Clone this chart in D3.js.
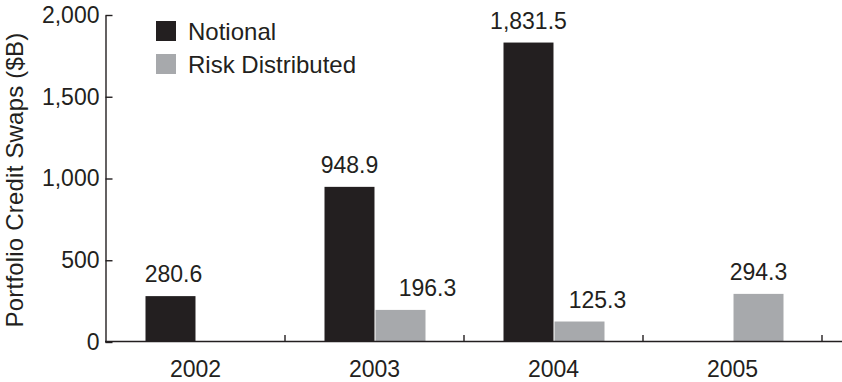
<!DOCTYPE html>
<html>
<head>
<meta charset="utf-8">
<script src="https://cdn.jsdelivr.net/npm/d3@7/dist/d3.min.js"></script>
<style>
  html, body { margin: 0; padding: 0; background: #fff; }
  svg { display: block; font-family: "Liberation Sans", Arial, Helvetica, sans-serif; }
  text { fill: #231f20; }
</style>
</head>
<body>
<svg id="chart" width="842" height="382"></svg>
<script>
// Portfolio credit swap volumes by year
const years = ["2002", "2003", "2004", "2005"];
const seriesNames = ["Notional", "Risk Distributed"];
const notional = [280.6, 948.9, 1831.5, null];
const riskDistributed = [null, 196.3, 125.3, 294.3];
const yTicks = [0, 500, 1000, 1500, 2000];

const colors = { "Notional": "#231f20", "Risk Distributed": "#a7a9ac" };
const ink = "#231f20";

// small nudges for value labels that sit beside taller neighbours
const labelNudge = { "Risk Distributed|2003": 27, "Risk Distributed|2004": 18, "Notional|2002": 3 };

const svg = d3.select("#chart");

const x = d3.scaleBand().domain(years).range([106, 822]).padding(0);
const y = d3.scaleLinear().domain([0, 2000]).range([342, 15]);
const fmt = d3.format(",.1f");

const rows = [];
years.forEach((yr, i) => {
  if (notional[i] != null) rows.push({ year: yr, series: "Notional", value: notional[i] });
  if (riskDistributed[i] != null) rows.push({ year: yr, series: "Risk Distributed", value: riskDistributed[i] });
});

// two bars share the middle of each year's band
function sub(yr) {
  const c = x(yr) + x.bandwidth() / 2;
  return d3.scaleBand().domain(seriesNames).range([c - 50, c + 51]).paddingInner(0.02);
}

// bars
svg.append("g").selectAll("rect")
  .data(rows)
  .join("rect")
  .attr("x", d => sub(d.year)(d.series))
  .attr("width", d => sub(d.year).bandwidth())
  .attr("y", d => y(d.value))
  .attr("height", d => y(0) - y(d.value))
  .attr("fill", d => colors[d.series]);

// value labels
svg.append("g").selectAll("text")
  .data(rows)
  .join("text")
  .attr("x", d => sub(d.year)(d.series) + sub(d.year).bandwidth() / 2 + (labelNudge[d.series + "|" + d.year] || 0))
  .attr("y", d => y(d.value) - 14)
  .attr("text-anchor", "middle")
  .attr("font-size", 23)
  .text(d => fmt(d.value));

// y axis
const yAxis = svg.append("g")
  .attr("transform", "translate(105.5,0)")
  .call(d3.axisLeft(y).tickValues(yTicks).tickFormat(d3.format(",")).tickSize(-7).tickSizeOuter(0).tickPadding(6));
yAxis.selectAll("text").attr("font-size", 23).attr("fill", ink);
yAxis.selectAll("line, path").attr("stroke", ink).attr("stroke-width", 1.4);

// x axis: labels at band centres, ticks at band boundaries
const xAxis = svg.append("g")
  .attr("transform", "translate(0,341.5)")
  .call(d3.axisBottom(x).tickSize(0).tickPadding(19));
xAxis.select(".domain").remove();
xAxis.selectAll("text").attr("font-size", 23).attr("fill", ink);

svg.append("line")
  .attr("x1", 105).attr("x2", 842)
  .attr("y1", 341.5).attr("y2", 341.5)
  .attr("stroke", ink).attr("stroke-width", 1.4);

svg.append("g").selectAll("line")
  .data(years)
  .join("line")
  .attr("x1", d => x(d) + x.bandwidth())
  .attr("x2", d => x(d) + x.bandwidth())
  .attr("y1", 341.5).attr("y2", 335)
  .attr("stroke", ink).attr("stroke-width", 1.4);

// y axis title
svg.append("text")
  .attr("transform", "translate(23,180) rotate(-90)")
  .attr("text-anchor", "middle")
  .attr("font-size", 24)
  .attr("letter-spacing", 0.2)
  .text("Portfolio Credit Swaps ($B)");

// legend
const legend = svg.append("g").selectAll("g")
  .data(seriesNames)
  .join("g")
  .attr("transform", (d, i) => `translate(156,${21 + i * 33})`);
legend.append("rect")
  .attr("width", 20).attr("height", 20)
  .attr("fill", d => colors[d]);
legend.append("text")
  .attr("x", 32).attr("y", 18.5)
  .attr("font-size", 24)
  .text(d => d);
</script>
</body>
</html>
